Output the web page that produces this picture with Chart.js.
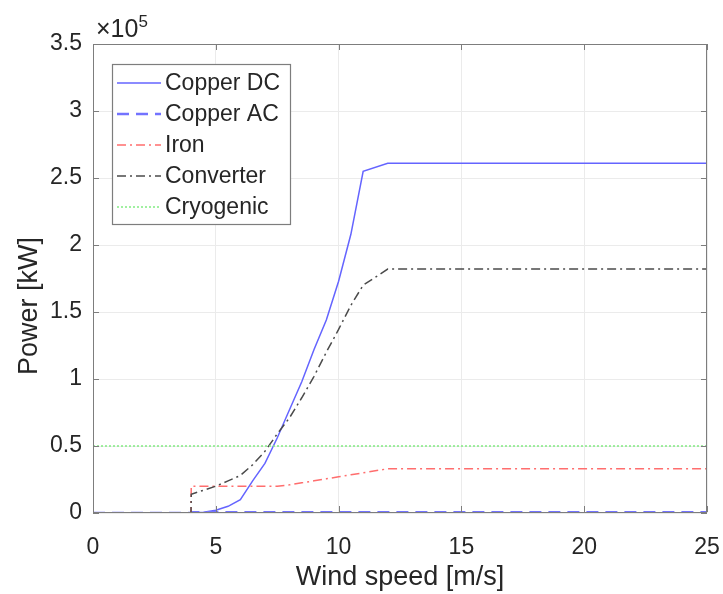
<!DOCTYPE html>
<html>
<head>
<meta charset="utf-8">
<script src="https://cdn.jsdelivr.net/npm/chart.js@4.4.1/dist/chart.umd.min.js"></script>
<style>
	html, body { margin: 0; padding: 0; background: #fff; }
	canvas { display: block; }
</style>
</head>
<body>
<canvas id="power_chart" width="723" height="594"></canvas>
<script>
// DATA (power in kW, axis shown as x10^5)
const wind_speed = [0, 1, 2, 3, 3.99, 4, 4.5, 5, 5.5, 6, 6.5, 7, 7.5, 8, 8.5, 9, 9.5, 10, 10.5, 11, 12, 25];
const copper_dc = [0, 0, 0, 0, 0, 0, 500, 2000, 5000, 10000, 24000, 37000, 56000, 77000, 98000, 122000, 144000, 173000, 208000, 255000, 261000, 261000];
const copper_ac = [0, 0, 0, 0, 0, 600, 600, 600, 600, 600, 600, 600, 600, 600, 600, 600, 600, 600, 600, 600, 600, 600];
const iron = [0, 0, 0, 0, 0, 20000, 20000, 20000, 20000, 20000, 20000, 20000, 20000, 21000, 22500, 24000, 25500, 27000, 28500, 30000, 33000, 33000];
const converter = [0, 0, 0, 0, 0, 14000, 17000, 20000, 24000, 28000, 36000, 46000, 59000, 71000, 86000, 102000, 120000, 137000, 155000, 170000, 182000, 182000];
const cryogenic = [50000, 50000, 50000, 50000, 50000, 50000, 50000, 50000, 50000, 50000, 50000, 50000, 50000, 50000, 50000, 50000, 50000, 50000, 50000, 50000, 50000, 50000];

const series_names = ['Copper DC', 'Copper AC', 'Iron', 'Converter', 'Cryogenic'];
const x_ticks = [0, 5, 10, 15, 20, 25];
const y_ticks = [0, 50000, 100000, 150000, 200000, 250000, 300000, 350000];

const FONT = '"Liberation Sans", Arial, sans-serif';
const TEXT_COLOR = '#262626';
const AXIS_COLOR = '#7d7d7d';

function toPoints(values) {
	return values.map((v, i) => ({ x: wind_speed[i], y: v }));
}

const styles = [
	{ color: 'rgb(100,100,255)', width: 1.5, dash: [] },
	{ color: 'rgb(115,115,255)', width: 2.5, dash: [12, 7] },
	{ color: 'rgb(255,110,110)', width: 1.5, dash: [9, 4, 2, 4] },
	{ color: 'rgb(75,75,75)', width: 1.5, dash: [9, 4, 2, 4] },
	{ color: 'rgb(130,235,130)', width: 1.5, dash: [2, 2] }
];
const series_values = [copper_dc, copper_ac, iron, converter, cryogenic];

const datasets = series_names.map((name, i) => ({
	label: name,
	data: toPoints(series_values[i]),
	borderColor: styles[i].color,
	backgroundColor: styles[i].color,
	borderWidth: styles[i].width,
	borderDash: styles[i].dash,
	pointRadius: 0,
	tension: 0,
	fill: false
}));

// copper dc drawn last so it sits on top
datasets.reverse();

// PLOT BOX, INSIDE TICKS, Y LABEL, EXPONENT, LEGEND
const matlabPlugin = {
	id: 'matlab',
	afterDatasetsDraw(chart) {
		const ctx = chart.ctx;
		const a = chart.chartArea;
		const xs = chart.scales.x, ys = chart.scales.y;
		const L = Math.round(a.left), R = Math.round(a.right) - 1;
		const T = Math.round(a.top), B = Math.round(a.bottom) - 1;
		ctx.save();
		ctx.setLineDash([]);
		ctx.fillStyle = AXIS_COLOR;
		ctx.fillRect(L, T, R - L + 1, 1);
		ctx.fillRect(L, B, R - L + 1, 1);
		ctx.fillRect(L, T, 1, B - T + 1);
		ctx.fillRect(R, T, 1, B - T + 1);
		x_ticks.forEach(t => {
			const px = Math.round(xs.getPixelForValue(t));
			ctx.fillRect(px, B - 6, 1, 6);
			ctx.fillRect(px, T, 1, 6);
		});
		y_ticks.forEach(t => {
			const py = Math.round(ys.getPixelForValue(t));
			ctx.fillRect(L, py, 6, 1);
			ctx.fillRect(R - 5, py, 6, 1);
		});

		// y axis title
		ctx.fillStyle = TEXT_COLOR;
		ctx.save();
		ctx.translate(30, 306);
		ctx.rotate(-Math.PI / 2);
		ctx.textAlign = 'center';
		ctx.textBaseline = 'middle';
		ctx.font = '27px ' + FONT;
		ctx.fillText('Power [kW]', 0, 0);
		ctx.restore();

		// x10^5
		ctx.textBaseline = 'alphabetic';
		ctx.textAlign = 'left';
		ctx.font = '25px ' + FONT;
		ctx.fillText('\u00d710', a.left + 3, a.top - 7);
		const w = ctx.measureText('\u00d710').width;
		ctx.font = '17px ' + FONT;
		ctx.fillText('5', a.left + 3 + w, a.top - 17);

		// legend
		const lx = 112, ly = 64, lw = 178, lh = 160;
		ctx.fillStyle = '#fff';
		ctx.fillRect(lx, ly, lw, lh);
		ctx.strokeStyle = AXIS_COLOR;
		ctx.lineWidth = 1.2;
		ctx.strokeRect(lx + 0.5, ly + 0.5, lw, lh);
		ctx.font = '23px ' + FONT;
		ctx.textBaseline = 'middle';
		series_names.forEach((name, i) => {
			const y = ly + 19 + i * 31;
			ctx.strokeStyle = styles[i].color;
			ctx.lineWidth = styles[i].width;
			ctx.setLineDash(styles[i].dash);
			ctx.beginPath();
			ctx.moveTo(lx + 5, y);
			ctx.lineTo(lx + 49, y);
			ctx.stroke();
			ctx.fillStyle = TEXT_COLOR;
			ctx.fillText(name, lx + 53, y + 1);
		});
		ctx.restore();
	}
};

const ctx = document.getElementById('power_chart').getContext('2d');

new Chart(ctx, {
	type: 'line',
	data: { datasets: datasets },
	plugins: [matlabPlugin],
	options: {
		responsive: false,
		animation: false,
		devicePixelRatio: 1,
		layout: { padding: { left: 0, top: 44, right: 16, bottom: 0 } },
		plugins: { legend: { display: false }, tooltip: { enabled: false } },
		scales: {
			x: {
				type: 'linear',
				min: 0,
				max: 25,
				afterFit(scale) {
					scale.height = 81;
					scale.paddingLeft = 0;
					scale.paddingRight = 0;
				},
				afterBuildTicks(scale) { scale.ticks = x_ticks.map(v => ({ value: v })); },
				grid: { color: 'rgb(235,235,235)', drawTicks: false },
				border: { display: false },
				ticks: {
					padding: 21,
					color: TEXT_COLOR,
					font: { family: FONT, size: 23 },
					maxRotation: 0
				},
				title: {
					display: true,
					text: 'Wind speed [m/s]',
					color: TEXT_COLOR,
					font: { family: FONT, size: 27 },
					padding: { top: 0, bottom: 0 }
				}
			},
			y: {
				min: 0,
				max: 350000,
				afterFit(scale) {
					scale.width = 93;
					scale.paddingTop = 0;
					scale.paddingBottom = 0;
				},
				afterBuildTicks(scale) { scale.ticks = y_ticks.map(v => ({ value: v })); },
				grid: { color: 'rgb(235,235,235)', drawTicks: false },
				border: { display: false },
				ticks: {
					padding: 11,
					color: TEXT_COLOR,
					font: { family: FONT, size: 23 },
					callback: v => String(v / 100000)
				}
			}
		}
	}
});
</script>
</body>
</html>
